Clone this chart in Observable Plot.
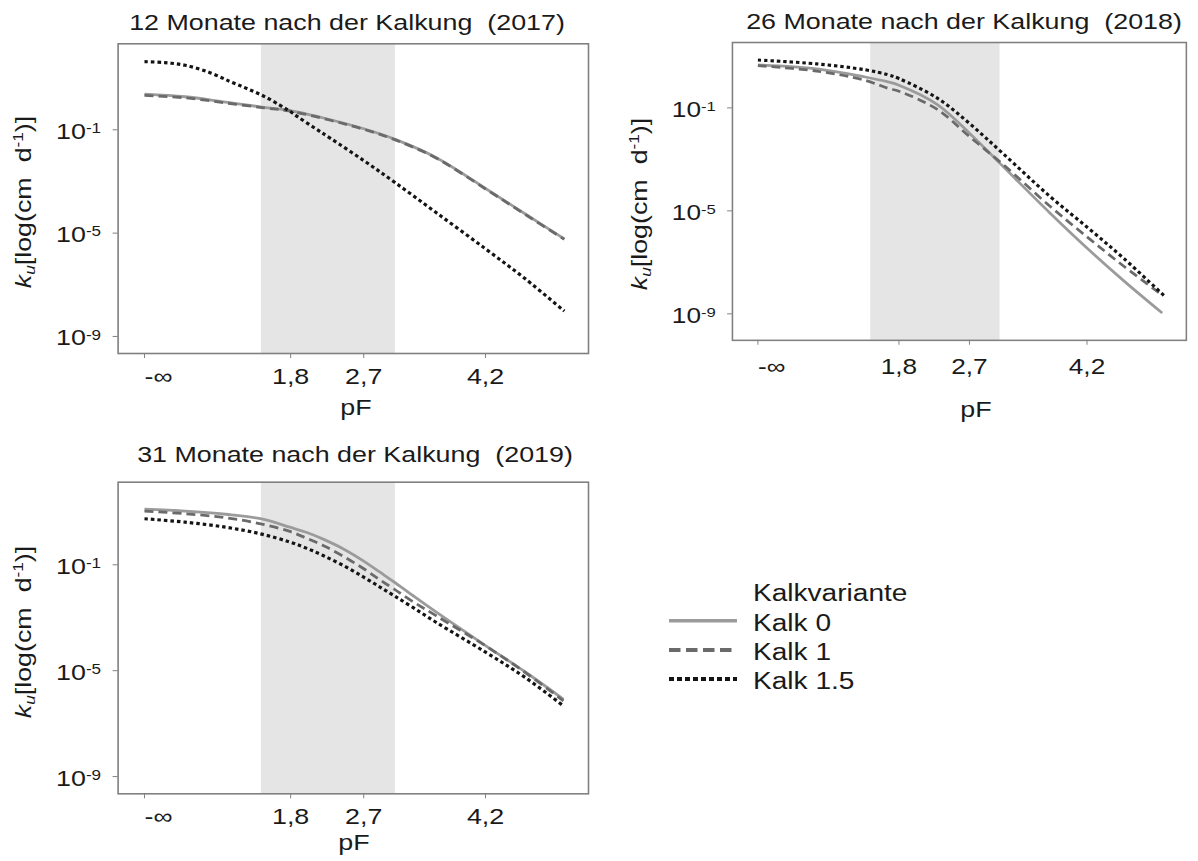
<!DOCTYPE html>
<html>
<head>
<meta charset="utf-8">
<script src="https://cdn.jsdelivr.net/npm/d3@7"></script>
<script src="https://cdn.jsdelivr.net/npm/@observablehq/plot@0.6"></script>
<style>
  html, body { margin: 0; padding: 0; background: #fff; }
  body { width: 1198px; height: 861px; overflow: hidden; position: relative;
         font-family: "Liberation Sans", Arial, sans-serif; color: #1a1a1a; }
  .t { position: absolute; white-space: pre; line-height: 1; font-size: 22px; }
  .panel { position: absolute; }
  sub, sup { font-size: 0.64em; line-height: 0; position: relative; vertical-align: baseline; }
  sup { top: -0.55em; }
  sub { top: 0.3em; }
</style>
</head>
<body>
<script>
// ---------------- data ----------------
const seriesNames = ["Kalk 0", "Kalk 1", "Kalk 1.5"];
const legendTitle = "Kalkvariante";
const panelTitles = [
  "12 Monate nach der Kalkung  (2017)",
  "26 Monate nach der Kalkung  (2018)",
  "31 Monate nach der Kalkung  (2019)"
];
const xLabel = "pF";
const pfTicks = [0, 1.8, 2.7, 4.2];
const pfTickLabels = ["-∞", "1,8", "2,7", "4,2"];
const kExpTicks = [-1, -5, -9];          // y ticks: 10^-1, 10^-5, 10^-9
const bandPF = [1.44, 3.09];              // shaded pF range

// 2017 (12 Monate) – log10(ku)
const pf17_k0  = [0, 0.5, 1.0, 1.47, 1.78, 2.29, 2.7, 3.08, 3.59, 4.2, 4.69, 5.17];
const log17_k0 = [0.38, 0.28, 0.07, -0.13, -0.25, -0.61, -0.96, -1.36, -2.07, -3.27, -4.26, -5.22];
const pf17_k1  = [0, 0.5, 1.0, 1.47, 1.78, 2.29, 2.7, 3.08, 3.59, 4.2, 4.69, 5.17];
const log17_k1 = [0.33, 0.24, 0.04, -0.15, -0.27, -0.63, -0.98, -1.38, -2.09, -3.29, -4.28, -5.24];
const pf17_k15  = [0, 0.25, 0.5, 0.8, 1.06, 1.26, 1.47, 1.67, 1.78, 1.88, 2.09, 2.29, 2.7, 3.08, 3.59, 4.2, 4.69, 5.17];
const log17_k15 = [1.64, 1.6, 1.5, 1.22, 0.86, 0.6, 0.3, -0.05, -0.26, -0.48, -0.92, -1.33, -2.19, -3.03, -4.2, -5.61, -6.77, -8.02];

// 2018 (26 Monate)
const pf18_k0  = [0, 0.75, 1.37, 1.66, 1.8, 2.29, 2.71, 3.13, 3.72, 4.22, 4.67, 5.16];
const log18_k0 = [0.67, 0.52, 0.20, 0.01, -0.12, -0.87, -2.01, -3.28, -5.06, -6.5, -7.72, -8.97];
const pf18_k1  = [0, 0.75, 1.37, 1.66, 1.8, 2.29, 2.71, 3.13, 3.72, 4.22, 4.67, 5.17];
const log18_k1 = [0.64, 0.43, 0.07, -0.24, -0.35, -1.06, -2.14, -3.2, -4.8, -6.06, -7.15, -8.3];
const pf18_k15  = [0, 0.75, 1.37, 1.66, 1.8, 2.29, 2.71, 3.13, 3.72, 4.22, 4.67, 5.2];
const log18_k15 = [0.86, 0.71, 0.48, 0.29, 0.14, -0.62, -1.63, -2.78, -4.42, -5.68, -6.85, -8.34];

// 2019 (31 Monate)
const pf19 = [0, 0.5, 1.0, 1.43, 1.79, 2.0, 2.2, 2.45, 2.7, 2.9, 3.07, 3.3, 3.59, 4.2, 4.69, 5.16];
const log19_k0  = [1.10, 1.03, 0.91, 0.74, 0.42, 0.22, -0.03, -0.40, -0.86, -1.28, -1.64, -2.15, -2.78, -4.05, -5.05, -6.08];
const log19_k1  = [1.03, 0.93, 0.78, 0.55, 0.26, 0.0, -0.27, -0.68, -1.15, -1.57, -1.91, -2.38, -2.92, -4.06, -5.07, -6.14];
const log19_k15 = [0.74, 0.61, 0.42, 0.17, -0.14, -0.38, -0.65, -1.03, -1.47, -1.84, -2.16, -2.6, -3.17, -4.3, -5.26, -6.33];

// ---------------- styling / layout ----------------
const K = 1.22; // horizontal glyph stretch of the original lettering
const svgNS = "http://www.w3.org/2000/svg";
const lineStyles = [
  {stroke: "#9b9b9b", strokeWidth: 2.8},
  {stroke: "#6a6a6a", strokeWidth: 2.8, strokeDasharray: "9,5"},
  {stroke: "#141414", strokeWidth: 3.2, strokeDasharray: "3.5,3"}
];
const legendStyles = [
  {stroke: "#9b9b9b", width: 3.6, dash: null},
  {stroke: "#6a6a6a", width: 4, dash: "11.5,5.5"},
  {stroke: "#141414", width: 4, dash: "5,3"}
];

function rows(pfs, logs, s) {
  return pfs.map((p, i) => ({pF: p, logk: logs[i], s}));
}

const panels = [
  {left: 0, top: 0, width: 600, height: 430, mt: 43.3, mb: 77, yLo: -9.66, yHi: 2.33, padX: 10,
   lines: [[pf17_k0, log17_k0], [pf17_k1, log17_k1], [pf17_k15, log17_k15]],
   title: {cx: 347, top: 11.5}, ylab: {cx: 24, cy: 202}, xlab: {cx: 356, top: 397}},
  {left: 617.4, top: 0, width: 594, height: 430, mt: 43, mb: 82.3, yLo: -10.03, yHi: 1.54, padX: 14,
   lines: [[pf18_k0, log18_k0], [pf18_k1, log18_k1], [pf18_k15, log18_k15]],
   title: {cx: 963.5, top: 10.8}, ylab: {cx: 640, cy: 204}, xlab: {cx: 976, top: 399}},
  {left: 0, top: 430, width: 600, height: 431, mt: 51.7, mb: 67.7, yLo: -9.65, yHi: 2.12, padX: 10,
   lines: [[pf19, log19_k0], [pf19, log19_k1], [pf19, log19_k15]],
   title: {cx: 355, top: 444.4}, ylab: {cx: 24, cy: 632}, xlab: {cx: 354, top: 832}}
];

function postProcess(svg) {
  svg.querySelectorAll('g[aria-label="y-axis tick label"] text').forEach(t => {
    const m = t.textContent.match(/^10\^(-?\d+)$/);
    if (m) {
      t.textContent = "10";
      const ts = document.createElementNS(svgNS, "tspan");
      ts.setAttribute("dy", "-6");
      ts.setAttribute("font-size", "14");
      ts.textContent = m[1];
      t.appendChild(ts);
    }
    const tr = t.getAttribute("transform") || "";
    t.setAttribute("transform", tr + " translate(0,2)");
  });
  svg.querySelectorAll('g[aria-label="x-axis tick label"] text').forEach(t => {
    if (t.textContent === "-∞") t.setAttribute("text-anchor", "start");
  });
  svg.querySelectorAll('g[aria-label$="tick label"] text').forEach(t => {
    const tr = t.getAttribute("transform");
    if (tr) {
      t.setAttribute("transform", tr + ` scale(${K},1)`);
    } else {
      const x = +(t.getAttribute("x") || 0);
      t.setAttribute("x", 0);
      t.setAttribute("transform", `translate(${x},0) scale(${K},1)`);
    }
  });
}

function addText(html, style) {
  const d = document.createElement("div");
  d.className = "t";
  d.innerHTML = html;
  Object.assign(d.style, style);
  document.body.appendChild(d);
  return d;
}

panels.forEach((p, pi) => {
  const marks = [
    Plot.rect([bandPF], {x1: d => d[0], x2: d => d[1], fill: "#e5e5e5"}),
    Plot.frame({stroke: "#808080", strokeWidth: 1.6}),
    Plot.axisY({
      ticks: kExpTicks.map(e => 10 ** e),
      tickFormat: d => "10^" + Math.round(Math.log10(d)),
      tickSize: 5, tickPadding: 12, stroke: "#808080", fill: "#1a1a1a",
      fontSize: 22, label: null
    }),
    Plot.axisX({
      ticks: pfTicks,
      tickFormat: d => pfTickLabels[pfTicks.indexOf(d)],
      tickSize: 5, tickPadding: p.padX, stroke: "#808080", fill: "#1a1a1a",
      fontSize: 22, label: null
    }),
    ...p.lines.map(([pfs, logs], i) =>
      Plot.line(rows(pfs, logs, seriesNames[i]), {
        x: "pF", y: d => 10 ** d.logk, curve: "catmull-rom",
        strokeLinecap: "butt", ...lineStyles[i]
      }))
  ];
  const chart = Plot.plot({
    width: p.width, height: p.height,
    marginLeft: 117.6, marginRight: 12, marginTop: p.mt, marginBottom: p.mb,
    x: {type: "linear", domain: [-0.325, 5.468]},
    y: {type: "log", domain: [10 ** p.yLo, 10 ** p.yHi]},
    style: {fontFamily: '"Liberation Sans", Arial, sans-serif', fontSize: "22px",
            color: "#1a1a1a", background: "transparent", overflow: "visible"},
    marks
  });
  postProcess(chart);
  const wrap = document.createElement("div");
  wrap.className = "panel";
  wrap.style.left = p.left + "px";
  wrap.style.top = p.top + "px";
  wrap.appendChild(chart);
  document.body.appendChild(wrap);

  addText(panelTitles[pi], {left: p.title.cx + "px", top: p.title.top + "px",
    transform: `translateX(-50%) scaleX(${K})`});
  addText(xLabel, {left: p.xlab.cx + "px", top: p.xlab.top + "px",
    transform: `translateX(-50%) scaleX(${K})`});
  addText('<i>k</i><sub><i>u</i></sub>[log(cm  d<sup>-1</sup>)]',
    {left: p.ylab.cx + "px", top: p.ylab.cy + "px",
     transform: `translate(-50%,-50%) rotate(-90deg) scaleX(${K})`});
});

// ---------------- legend ----------------
addText(legendTitle, {left: "753px", top: "582.2px", fontSize: "23px",
  transformOrigin: "left center", transform: `scaleX(${K})`});
const legY = [620.7, 650, 679];
const legTop = [611.5, 640.5, 669.5];
const lsvg = document.createElementNS(svgNS, "svg");
lsvg.setAttribute("width", 80);
lsvg.setAttribute("height", 90);
lsvg.style.position = "absolute";
lsvg.style.left = "665px";
lsvg.style.top = "600px";
seriesNames.forEach((name, i) => {
  const ln = document.createElementNS(svgNS, "line");
  ln.setAttribute("x1", 4);
  ln.setAttribute("x2", 72);
  ln.setAttribute("y1", legY[i] - 600);
  ln.setAttribute("y2", legY[i] - 600);
  ln.setAttribute("stroke", legendStyles[i].stroke);
  ln.setAttribute("stroke-width", legendStyles[i].width);
  if (legendStyles[i].dash) ln.setAttribute("stroke-dasharray", legendStyles[i].dash);
  lsvg.appendChild(ln);
  addText(name, {left: "753px", top: legTop[i] + "px", fontSize: "23px",
    transformOrigin: "left center", transform: `scaleX(${K})`});
});
document.body.appendChild(lsvg);
</script>
</body>
</html>
